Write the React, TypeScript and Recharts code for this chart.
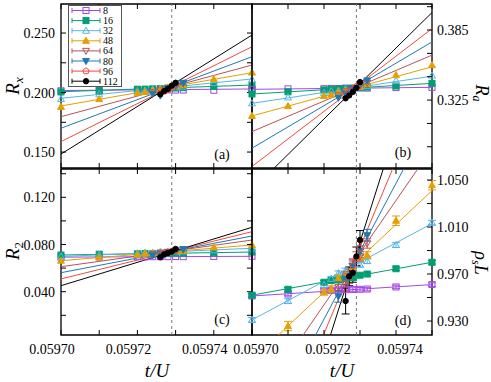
import React from 'react';
import {
  ComposedChart,
  ErrorBar,
  Legend,
  Line,
  ReferenceArea,
  ReferenceLine,
  Scatter,
  XAxis,
  YAxis,
} from 'recharts';

const W = 491;
const H = 382;
const FONT = '"Liberation Serif", "Times New Roman", serif';

// system sizes L and their styles
const SIZES = [8, 16, 32, 48, 64, 80, 96, 112];
const COLORS = ['#a347e6', '#009e73', '#56b4e9', '#e69f00', '#b8525a', '#1f78b4', '#ee4b3e', '#000000'];

// t/U values that were simulated for each size
const T_WIDE = [0.0597, 0.05971, 0.05972, 0.059722, 0.059724, 0.059726, 0.059728, 0.05973, 0.059732, 0.05974, 0.05975];
const T_MID = [0.059724, 0.059726, 0.059728, 0.05973, 0.059732];
const T_NARROW = [0.059726, 0.059727, 0.059728, 0.059729, 0.05973];
const T_BY_SIZE = [T_WIDE, T_WIDE, T_WIDE, T_WIDE, T_MID, T_MID, T_NARROW, T_NARROW];

const X_DOMAIN: [number, number] = [0.0597, 0.05975];
const X_TICKS = [0.0597, 0.05971, 0.05972, 0.05973, 0.05974, 0.05975];
const X_LABELS = ['0.05970', '0.05972', '0.05974'];
const T_CRIT = 0.059729;

// (a) R_x
const RX_POINTS = [
  [0.2015, 0.2017, 0.202, 0.2019, 0.2021, 0.202, 0.2022, 0.2021, 0.2021, 0.2019, 0.2025],
  [0.2005, 0.2014, 0.2028, 0.2029, 0.2031, 0.2033, 0.2037, 0.2038, 0.2041, 0.2052, 0.206],
  [0.1945, 0.1985, 0.2013, 0.2016, 0.2025, 0.203, 0.2038, 0.2045, 0.205, 0.208, 0.211],
  [0.188, 0.1945, 0.1998, 0.2005, 0.2016, 0.2031, 0.204, 0.2055, 0.2062, 0.2112, 0.2168],
  [0.2002, 0.2018, 0.204, 0.2055, 0.2076],
  [0.199, 0.1975, 0.203, 0.2057, 0.2082],
  [0.1994, 0.2012, 0.2025, 0.2043, 0.206],
  [0.1985, 0.2012, 0.2032, 0.2058, 0.2082],
];
const RX_FIT = [
  [0.2017, 0.203], [0.2007, 0.2063], [0.1952, 0.2114], [0.1887, 0.2167],
  [0.1797, 0.2231], [0.17, 0.2301], [0.1588, 0.2385], [0.1483, 0.2483],
];

// (b) R_a
const RA_POINTS = [
  [0.3342, 0.3346, 0.3348, 0.335, 0.3349, 0.3352, 0.3351, 0.3353, 0.3352, 0.3357, 0.3359],
  [0.3302, 0.3321, 0.3337, 0.3343, 0.3345, 0.335, 0.3352, 0.3358, 0.3361, 0.337, 0.3393],
  [0.3222, 0.3273, 0.3312, 0.3326, 0.3331, 0.3345, 0.335, 0.3363, 0.337, 0.3415, 0.346],
  [0.3114, 0.3199, 0.3285, 0.3296, 0.3318, 0.333, 0.3352, 0.3365, 0.3386, 0.3464, 0.3549],
  [0.329, 0.3324, 0.3345, 0.3375, 0.3398],
  [0.327, 0.3305, 0.335, 0.3382, 0.3418],
  [0.3293, 0.332, 0.334, 0.3368, 0.3392],
  [0.3265, 0.329, 0.332, 0.3355, 0.3404],
];
const RA_FIT = [
  [0.3342, 0.3359], [0.3302, 0.3393], [0.3222, 0.3455], [0.3114, 0.3535],
  [0.298, 0.3635], [0.2838, 0.3748], [0.2681, 0.3862], [0.248, 0.4],
];

// (c) R_2
const R2_POINTS = [
  [0.0693, 0.0694, 0.0696, 0.0695, 0.0697, 0.0696, 0.0697, 0.0698, 0.0697, 0.0699, 0.07],
  [0.0711, 0.0718, 0.0721, 0.0723, 0.0722, 0.0725, 0.0724, 0.0727, 0.0726, 0.0731, 0.0736],
  [0.0698, 0.0712, 0.0725, 0.073, 0.0731, 0.0735, 0.0736, 0.0741, 0.0742, 0.0752, 0.0768],
  [0.0663, 0.0692, 0.0714, 0.0723, 0.0726, 0.0733, 0.0736, 0.0744, 0.0747, 0.0776, 0.0796],
  [0.0718, 0.0731, 0.0738, 0.0749, 0.0756],
  [0.0708, 0.0722, 0.0736, 0.0747, 0.0761],
  [0.0715, 0.0726, 0.0732, 0.0742, 0.0748],
  [0.0692, 0.0716, 0.0729, 0.074, 0.0762],
];
const R2_FIT = [
  [0.0693, 0.07], [0.0711, 0.0736], [0.0698, 0.0768], [0.0663, 0.0796],
  [0.0612, 0.0838], [0.0561, 0.0872], [0.0508, 0.0909], [0.0451, 0.0946],
];

// (d) rho_s L with error bars
const RHO_POINTS = [
  [0.9513, 0.953, 0.9558, 0.9562, 0.9565, 0.9567, 0.9568, 0.957, 0.9572, 0.959, 0.961],
  [0.952, 0.957, 0.963, 0.9645, 0.965, 0.966, 0.967, 0.969, 0.97, 0.9745, 0.98],
  [0.931, 0.947, 0.9606, 0.966, 0.9706, 0.973, 0.976, 0.978, 0.981, 0.9947, 1.0137],
  [0.896, 0.9257, 0.955, 0.957, 0.9664, 0.969, 0.976, 0.9842, 0.986, 1.0154, 1.0456],
  [0.959, 0.968, 0.977, 0.985, 0.996],
  [0.951, 0.966, 0.977, 0.989, 1.003],
  [0.962, 0.968, 0.977, 0.983, 0.992],
  [0.947, 0.968, 0.971, 0.985, 0.999],
];
const RHO_ERR = [
  [0.0015, 0.0015, 0.0015, 0.0015, 0.0015, 0.0015, 0.0015, 0.0015, 0.0015, 0.0015, 0.0015],
  [0.0015, 0.0015, 0.0015, 0.0015, 0.0015, 0.0015, 0.0015, 0.0015, 0.0015, 0.0015, 0.0015],
  [0.002, 0.002, 0.002, 0.002, 0.002, 0.002, 0.002, 0.002, 0.002, 0.002, 0.002],
  [0.004, 0.004, 0.003, 0.003, 0.003, 0.003, 0.003, 0.003, 0.003, 0.004, 0.004],
  [0.004, 0.004, 0.004, 0.004, 0.004],
  [0.005, 0.005, 0.005, 0.005, 0.005],
  [0.006, 0.006, 0.006, 0.006, 0.006],
  [0.011, 0.008, 0.008, 0.008, 0.008],
];
const RHO_FIT = [
  [0.9513, 0.961], [0.952, 0.98], [0.931, 1.013], [0.897, 1.041],
  [0.855, 1.077], [0.816, 1.105], [0.772, 1.14], [0.708, 1.19],
];

const TICK = 5;

function Mark({ cx, cy, k, c }: { cx?: number; cy?: number; k: number; c: string }) {
  if (cx == null || cy == null) return null;
  const r = 3;
  const open = k % 2 === 0;
  const fill = open ? 'none' : c;
  const common = { fill, stroke: c, strokeWidth: 1 };
  if (k <= 1) return <rect x={cx - r} y={cy - r} width={2 * r} height={2 * r} {...common} />;
  if (k <= 3)
    return <polygon points={`${cx},${cy - r * 1.2} ${cx - r * 1.15},${cy + r * 0.85} ${cx + r * 1.15},${cy + r * 0.85}`} {...common} />;
  if (k <= 5)
    return <polygon points={`${cx},${cy + r * 1.2} ${cx - r * 1.15},${cy - r * 0.85} ${cx + r * 1.15},${cy - r * 0.85}`} {...common} />;
  if (k === 6) {
    const p = [0, 1, 2, 3, 4]
      .map((j) => {
        const a = (-90 + j * 72) * (Math.PI / 180);
        return `${cx + r * 1.1 * Math.cos(a)},${cy + r * 1.1 * Math.sin(a)}`;
      })
      .join(' ');
    return <polygon points={p} {...common} />;
  }
  return <circle cx={cx} cy={cy} r={2.7} fill={c} stroke={c} />;
}

function LegendBox() {
  return (
    <svg width={54} height={82} style={{ display: 'block' }}>
      <rect x={0.5} y={0.5} width={53} height={81} fill="#fff" stroke="#555" />
      {SIZES.map((s, i) => {
        const y = 5.5 + i * 10.1;
        return (
          <g key={s}>
            <line x1={4} x2={32} y1={y} y2={y} stroke={COLORS[i]} />
            <line x1={4} x2={4} y1={y - 2.5} y2={y + 2.5} stroke={COLORS[i]} />
            <line x1={32} x2={32} y1={y - 2.5} y2={y + 2.5} stroke={COLORS[i]} />
            <Mark cx={18} cy={y} k={i} c={COLORS[i]} />
            <text x={35} y={y + 3.5} fontSize={10} fontFamily={FONT} fill="#000">
              {s}
            </text>
          </g>
        );
      })}
    </svg>
  );
}

type PanelProps = {
  rect: [number, number, number, number];
  yDomain: [number, number];
  yTicks: number[];
  yLabels: string[];
  side: 'left' | 'right';
  xLabelled: boolean;
  xDx: number;
  points: number[][];
  fits: number[][];
  errs?: number[][];
  legend?: boolean;
};

function Panel({ rect, yDomain, yTicks, yLabels, side, xLabelled, xDx, points, fits, errs, legend }: PanelProps) {
  const [x0, y0, w, h] = rect;
  // axes get 1px of room each (an axis of size 0 draws nothing)
  const margin = {
    left: side === 'left' ? x0 - 1 : x0,
    top: y0,
    right: side === 'right' ? W - x0 - w - 1 : W - x0 - w,
    bottom: H - y0 - h - 1,
  };

  const xTick = (p: any) => {
    const v = p.payload.value as number;
    const s = v.toFixed(5);
    return (
      <g>
        <line x1={p.x} x2={p.x} y1={p.y} y2={p.y - TICK} stroke="#000" />
        <line x1={p.x} x2={p.x} y1={p.y - h} y2={p.y - h + TICK} stroke="#000" />
        {xLabelled && X_LABELS.includes(s) && (
          <text x={p.x + xDx} y={p.y + 19} textAnchor="middle" fontSize={14} fontFamily={FONT} fill="#000">
            {s}
          </text>
        )}
      </g>
    );
  };

  const yTick = (p: any) => {
    const v = p.payload.value as number;
    const s = v.toFixed(3);
    const lab = yLabels.includes(s);
    if (side === 'left') {
      return (
        <g>
          <line x1={p.x} x2={p.x + TICK} y1={p.y} y2={p.y} stroke="#000" />
          <line x1={p.x + w} x2={p.x + w - TICK} y1={p.y} y2={p.y} stroke="#000" />
          {lab && (
            <text x={p.x - 6} y={p.y + 5} textAnchor="end" fontSize={14} fontFamily={FONT} fill="#000">
              {s}
            </text>
          )}
        </g>
      );
    }
    return (
      <g>
        <line x1={p.x} x2={p.x - TICK} y1={p.y} y2={p.y} stroke="#000" />
        {lab && (
          <text x={p.x + 5} y={p.y + 5} textAnchor="start" fontSize={14} fontFamily={FONT} fill="#000">
            {s}
          </text>
        )}
      </g>
    );
  };

  return (
    <div style={{ position: 'absolute', left: 0, top: 0 }}>
      <ComposedChart width={W} height={H} margin={margin}>
        <XAxis dataKey="t" type="number" domain={X_DOMAIN} ticks={X_TICKS} interval={0} height={1}
          tickSize={0} tickMargin={0} axisLine={false} tickLine={false} tick={xTick} />
        <YAxis type="number" domain={yDomain} ticks={yTicks} interval={0} width={1} orientation={side}
          tickSize={0} tickMargin={0} axisLine={false} tickLine={false} tick={yTick} />
        <XAxis xAxisId="f" dataKey="t" type="number" domain={X_DOMAIN} allowDataOverflow hide />
        <YAxis yAxisId="f" type="number" domain={yDomain} allowDataOverflow hide />
        <ReferenceLine x={T_CRIT} stroke="#777" strokeDasharray="3 3" strokeWidth={1} />
        {fits.map((f, i) => (
          <Line key={'fit' + i} xAxisId="f" yAxisId="f" dataKey="v"
            data={[{ t: X_DOMAIN[0], v: f[0] }, { t: X_DOMAIN[1], v: f[1] }]}
            stroke={COLORS[i]} strokeWidth={1} dot={false} activeDot={false} isAnimationActive={false} />
        ))}
        {points.map((vals, i) => {
          const data = T_BY_SIZE[i]
            .map((t, j) => ({ t, v: vals[j], e: errs ? errs[i][j] : 0 }))
            .filter((d) => d.v >= yDomain[0] && d.v <= yDomain[1]);
          return (
            <Scatter key={'pts' + i} data={data} dataKey="v" isAnimationActive={false}
              shape={(p: any) => <Mark cx={p.cx} cy={p.cy} k={i} c={COLORS[i]} />}>
              {errs && <ErrorBar dataKey="e" direction="y" width={4} stroke={COLORS[i]} strokeWidth={1} />}
            </Scatter>
          );
        })}
        <ReferenceArea x1={X_DOMAIN[0]} x2={X_DOMAIN[1]} y1={yDomain[0]} y2={yDomain[1]}
          fill="none" stroke="#000" strokeWidth={1.3} />
        {legend && (
          <Legend layout="vertical" align="center" verticalAlign="middle" content={() => <LegendBox />}
            wrapperStyle={{ left: 68, top: 5, width: 54, height: 82 }} />
        )}
      </ComposedChart>
    </div>
  );
}

export default function App() {
  const it = { fontFamily: FONT, fill: '#000' };
  return (
    <div style={{ position: 'absolute', left: 0, top: 0, width: W, height: H, background: '#fff' }}>
      <Panel rect={[61, 4, 191, 164]} yDomain={[0.1366, 0.2744]} yTicks={[0.15, 0.175, 0.2, 0.225, 0.25]}
        yLabels={['0.150', '0.200', '0.250']} side="left" xLabelled={false} xDx={0}
        points={RX_POINTS} fits={RX_FIT} legend />
      <Panel rect={[252, 4, 180, 164]} yDomain={[0.2668, 0.4073]}
        yTicks={[0.285, 0.305, 0.325, 0.345, 0.365, 0.385, 0.405]} yLabels={['0.325', '0.385']}
        side="right" xLabelled={false} xDx={0} points={RA_POINTS} fits={RA_FIT} />
      <Panel rect={[61, 169, 191, 166]} yDomain={[0.0033, 0.144]}
        yTicks={[0.02, 0.04, 0.06, 0.08, 0.1, 0.12, 0.14]} yLabels={['0.040', '0.080', '0.120']}
        side="left" xLabelled xDx={-9} points={R2_POINTS} fits={R2_FIT} />
      <Panel rect={[252, 169, 180, 166]} yDomain={[0.9181, 1.0594]}
        yTicks={[0.93, 0.95, 0.97, 0.99, 1.01, 1.03, 1.05]} yLabels={['0.930', '0.970', '1.010', '1.050']}
        side="right" xLabelled xDx={4} points={RHO_POINTS} fits={RHO_FIT} errs={RHO_ERR} />
      <svg width={W} height={H} style={{ position: 'absolute', left: 0, top: 0, pointerEvents: 'none' }}>
        <text transform="translate(19,86) rotate(-90)" textAnchor="middle" fontSize={19} fontStyle="italic" {...it}>
          R<tspan dy={4} fontSize={13}>x</tspan>
        </text>
        <text transform="translate(19,251) rotate(-90)" textAnchor="middle" fontSize={19} fontStyle="italic" {...it}>
          R<tspan dy={4} fontSize={13} fontStyle="normal">2</tspan>
        </text>
        <text transform="translate(476,93) rotate(90)" textAnchor="middle" fontSize={18} fontStyle="italic" {...it}>
          R<tspan dy={3.5} fontSize={12}>a</tspan>
        </text>
        <text transform="translate(475,263) rotate(90)" textAnchor="middle" fontSize={18} fontStyle="italic" {...it}>
          ρ<tspan dy={3.5} fontSize={12}>s</tspan><tspan dy={-3.5}>L</tspan>
        </text>
        <text x={157} y={377} textAnchor="middle" fontSize={19} fontStyle="italic" {...it}>t/U</text>
        <text x={342} y={377} textAnchor="middle" fontSize={19} fontStyle="italic" {...it}>t/U</text>
        <text x={222} y={159} textAnchor="middle" fontSize={14} {...it}>(a)</text>
        <text x={403} y={157} textAnchor="middle" fontSize={14} {...it}>(b)</text>
        <text x={222} y={324} textAnchor="middle" fontSize={14} {...it}>(c)</text>
        <text x={403} y={325} textAnchor="middle" fontSize={14} {...it}>(d)</text>
      </svg>
    </div>
  );
}
